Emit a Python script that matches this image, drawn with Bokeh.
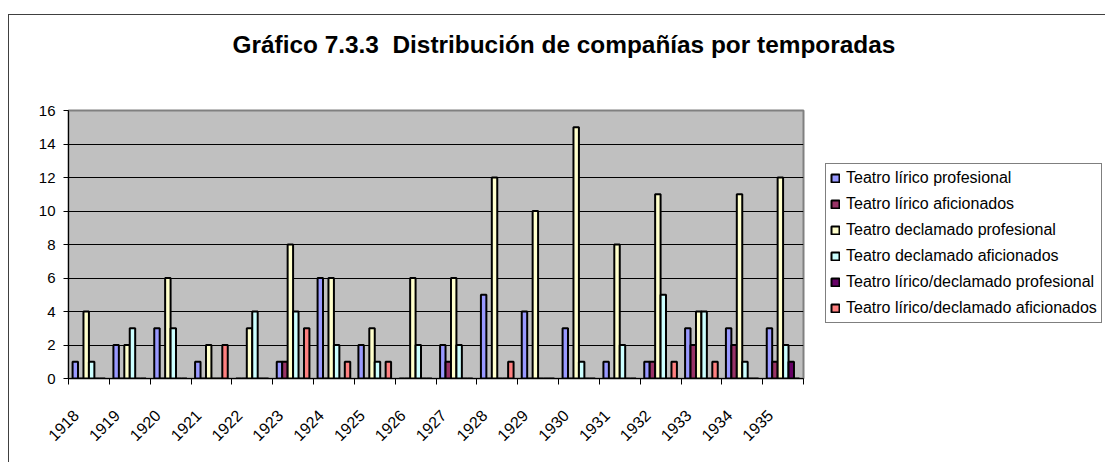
import numpy as np
from bokeh.plotting import figure
from bokeh.models import (ColumnDataSource, FixedTicker, Legend, LegendItem, Range1d, Title)
from bokeh.transform import dodge
from bokeh.embed import file_html
from bokeh.resources import INLINE

years = ["1918", "1919", "1920", "1921", "1922", "1923", "1924", "1925", "1926",
         "1927", "1928", "1929", "1930", "1931", "1932", "1933", "1934", "1935"]

lirico_prof = [1, 2, 3, 1, 0, 1, 6, 2, 0, 2, 5, 4, 3, 1, 1, 3, 3, 3]
lirico_afic = [0, 0, 0, 0, 0, 1, 0, 0, 0, 1, 0, 0, 0, 0, 1, 2, 2, 1]
declamado_prof = [4, 2, 6, 2, 3, 8, 6, 3, 6, 6, 12, 10, 15, 8, 11, 4, 11, 12]
declamado_afic = [1, 3, 3, 0, 4, 4, 2, 1, 2, 2, 0, 0, 1, 2, 5, 4, 1, 2]
lirdecl_prof = [0, 0, 0, 0, 0, 0, 0, 0, 0, 0, 0, 0, 0, 0, 0, 0, 0, 1]
lirdecl_afic = [0, 0, 0, 2, 0, 3, 1, 1, 0, 0, 1, 0, 0, 0, 1, 1, 0, 0]

series_names = ["Teatro lírico profesional", "Teatro lírico aficionados",
                "Teatro declamado profesional", "Teatro declamado aficionados",
                "Teatro lírico/declamado profesional", "Teatro lírico/declamado aficionados"]
series_values = [lirico_prof, lirico_afic, declamado_prof, declamado_afic,
                 lirdecl_prof, lirdecl_afic]
colors = ["#9999FF", "#993366", "#FFFFCC", "#CCFFFF", "#660066", "#FF8080"]

title_text = "Gráfico 7.3.3\u00a0 Distribución de compañías por temporadas"
y_ticks = [0, 2, 4, 6, 8, 10, 12, 14, 16]

FONT = "Liberation Sans"
n = len(years)
centers = np.arange(n) + 0.5
label_pos = centers - 0.32

data = {"x": centers, "year": years}
for i, vals in enumerate(series_values):
    data[f"s{i}"] = vals
source = ColumnDataSource(data)

p = figure(frame_width=735, frame_height=268, output_backend="svg", toolbar_location=None,
           x_range=Range1d(0, n), y_range=Range1d(0, 16),
           min_border_left=59, min_border_right=300, min_border_top=95,
           min_border_bottom=84)
p.styles = {"margin-top": "14px", "margin-left": "8px",
            "border-left": "1px solid #404040", "border-top": "1px solid #404040"}

# spacer between frame and title, then the title itself
p.add_layout(Title(text=" ", text_font_size="1px", standoff=45), "above")
p.add_layout(Title(text=title_text, text_font=FONT, text_font_size="24.4px",
                   text_font_style="bold", text_color="black", align="left",
                   offset=164, standoff=10), "above")

p.background_fill_color = "#C0C0C0"
p.border_fill_color = "white"
p.outline_line_color = "#808080"
p.outline_line_width = 2

bw = 1.0 / 7.5
renderers = []
for i in range(6):
    r = p.vbar(x=dodge("x", (i - 2.5) * bw, range=p.x_range), top=f"s{i}",
               width=bw, bottom=0, source=source, fill_color=colors[i],
               line_color="black", line_width=2)
    renderers.append(r)

# axes
p.xaxis.ticker = FixedTicker(ticks=list(label_pos), minor_ticks=list(range(n + 1)))
p.xaxis.major_label_overrides = {float(c): y for c, y in zip(label_pos, years)}
p.xaxis.major_label_orientation = np.pi / 4
p.xaxis.major_label_text_font = FONT
p.xaxis.major_label_text_font_size = "16px"
p.xaxis.major_label_text_color = "black"
p.xaxis.major_label_standoff = 28
p.xaxis.major_tick_out = 0
p.xaxis.major_tick_in = 0
p.xaxis.minor_tick_out = 6
p.xaxis.minor_tick_in = 0
p.xaxis.minor_tick_line_color = "black"
p.xaxis.axis_line_color = "black"

p.yaxis.ticker = FixedTicker(ticks=y_ticks)
p.yaxis.major_label_text_font = FONT
p.yaxis.major_label_text_font_size = "15px"
p.yaxis.major_label_text_color = "black"
p.yaxis.major_tick_out = 5
p.yaxis.major_tick_in = 0
p.yaxis.minor_tick_line_color = None
p.yaxis.axis_line_color = "black"
p.yaxis.major_label_standoff = 8

p.xgrid.grid_line_color = None
p.ygrid.ticker = FixedTicker(ticks=y_ticks[1:-1])
p.ygrid.grid_line_color = "black"
p.ygrid.grid_line_width = 1

legend = Legend(items=[LegendItem(label=series_names[i], renderers=[renderers[i]])
                       for i in range(6)],
                location=(22, 55), orientation="vertical")
legend.label_text_font = FONT
legend.label_text_font_size = "16px"
legend.label_text_color = "black"
legend.glyph_width = 10
legend.glyph_height = 10
legend.label_height = 20
legend.spacing = 6
legend.padding = 4
legend.margin = 0
legend.label_standoff = 6
legend.border_line_color = "black"
legend.border_line_width = 1
legend.background_fill_color = "white"
legend.background_fill_alpha = 1
p.add_layout(legend, "right")

open("out.html", "w").write(file_html(p, INLINE))
